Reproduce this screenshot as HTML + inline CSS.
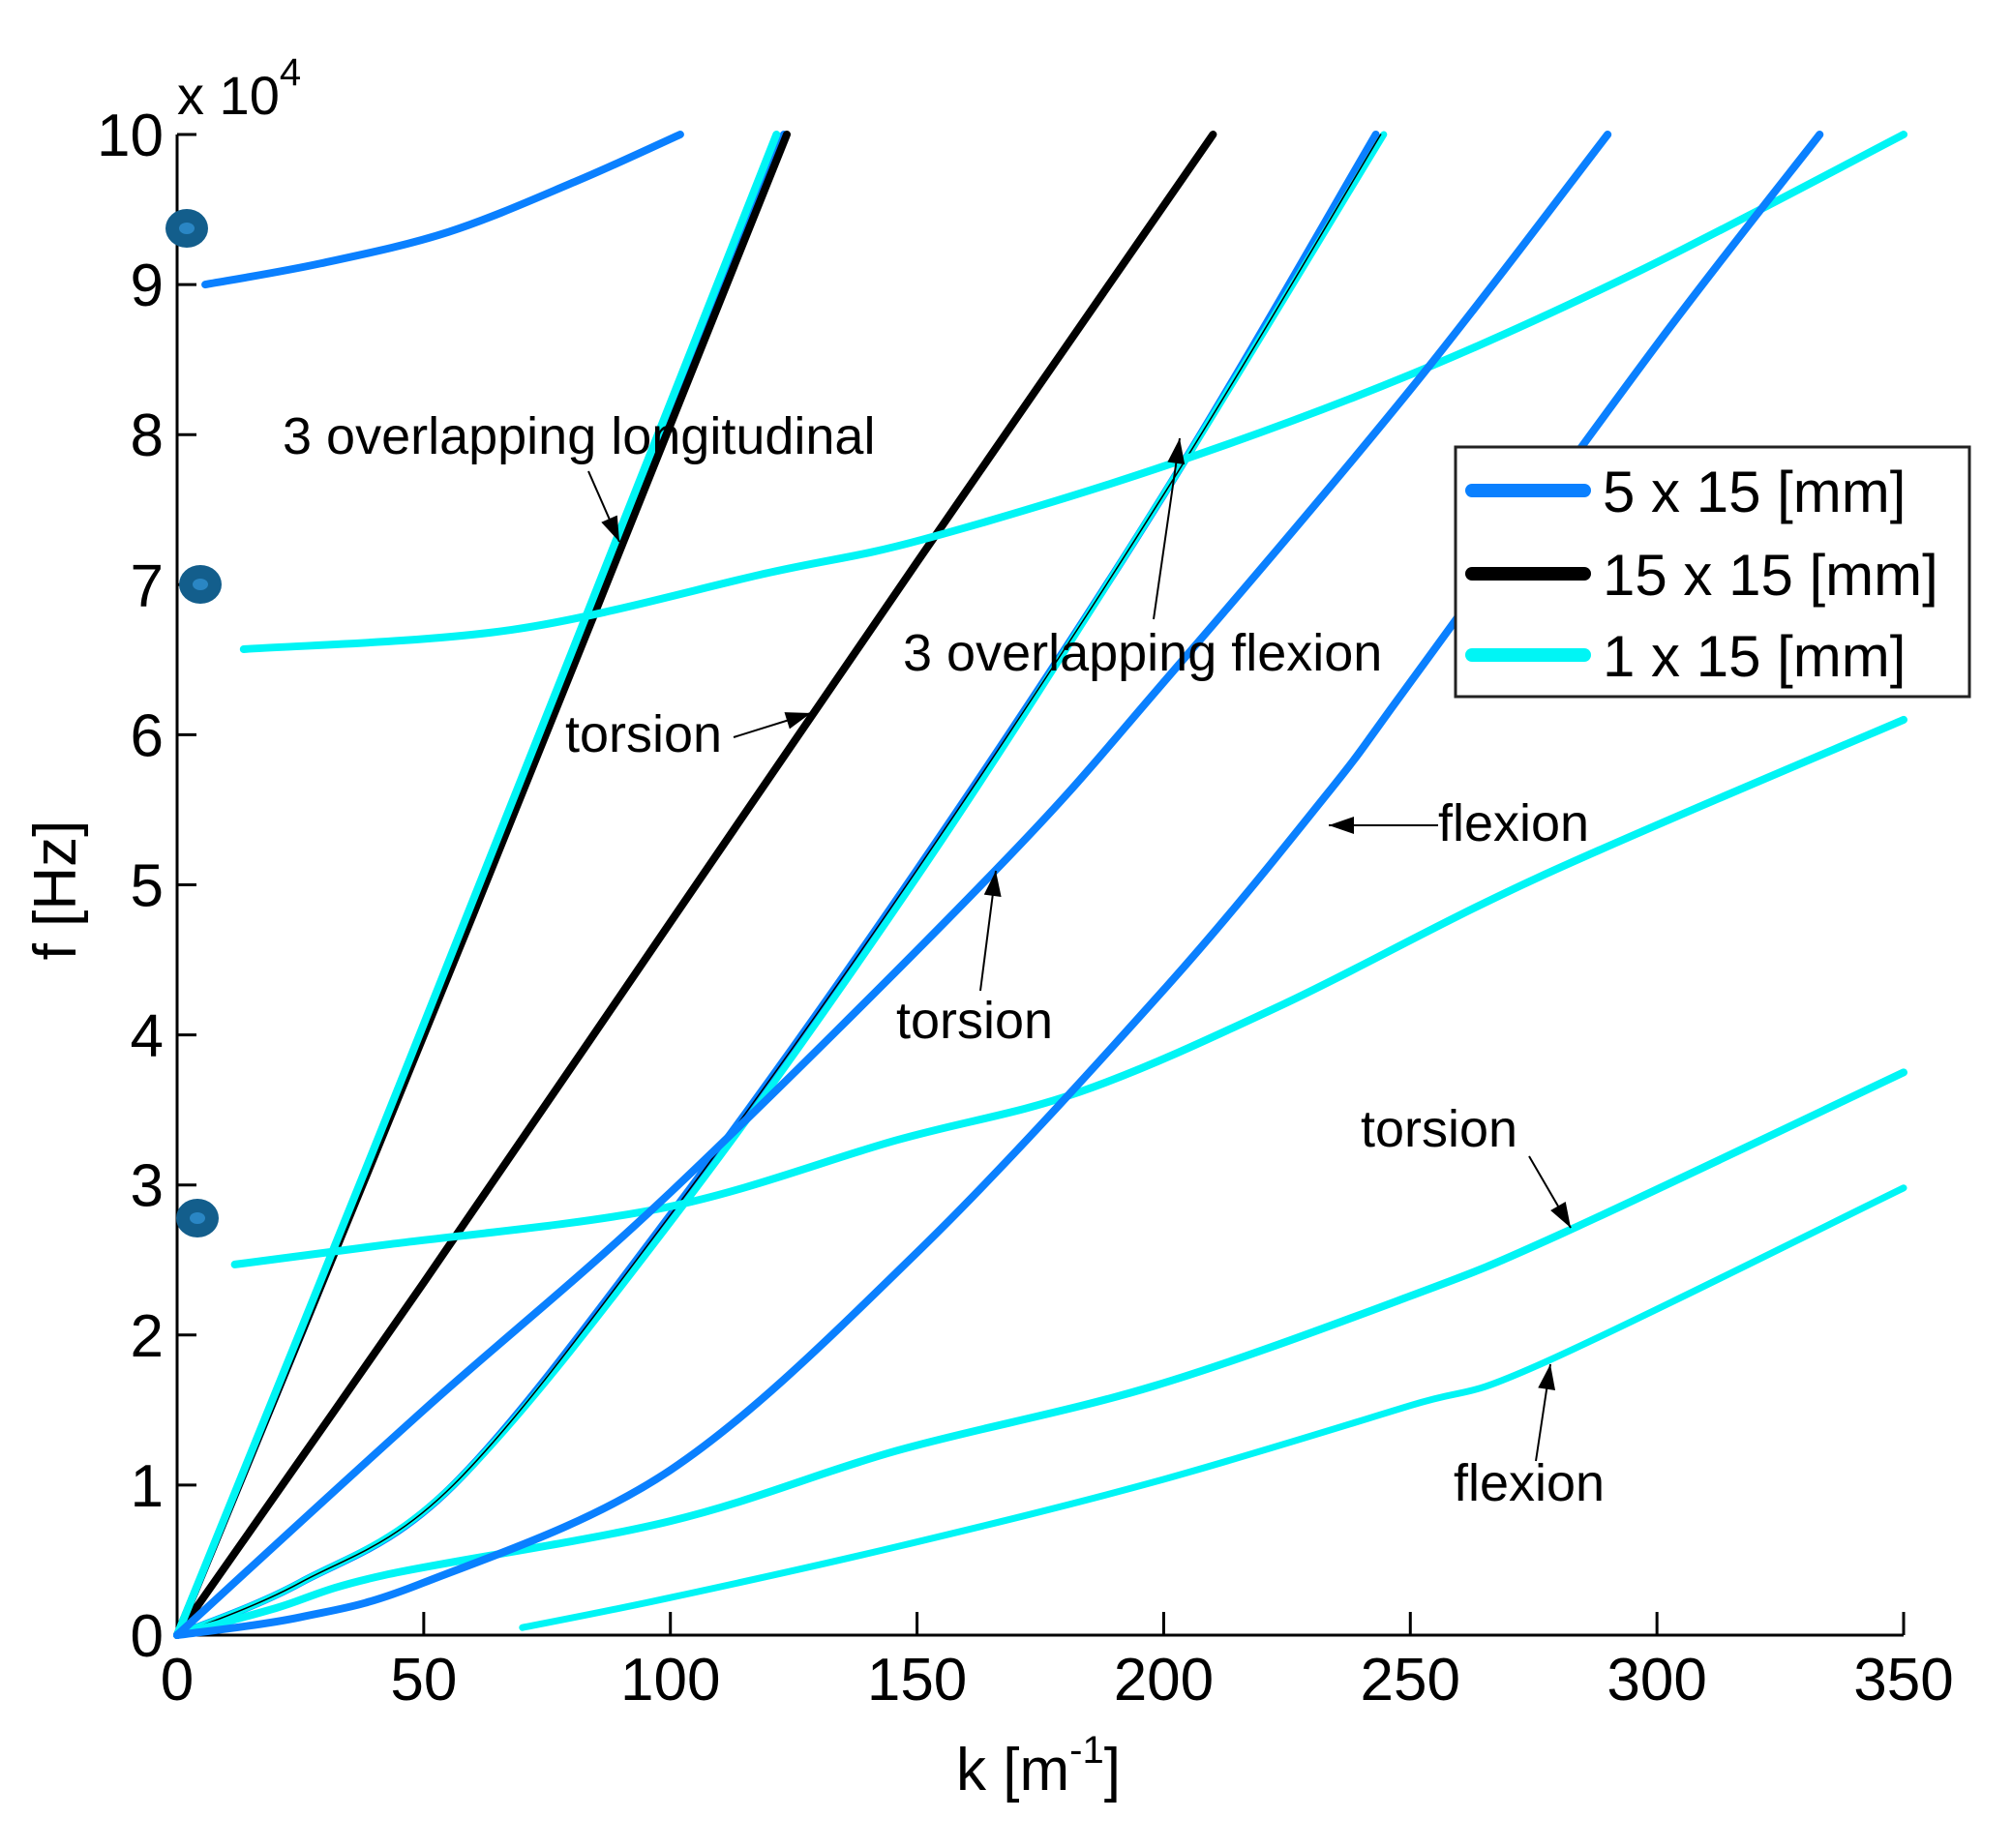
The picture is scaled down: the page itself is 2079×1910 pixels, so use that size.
<!DOCTYPE html>
<html><head><meta charset="utf-8"><style>
body{margin:0;background:#fff}
svg{display:block;font-family:"Liberation Sans",Arial,sans-serif}
</style></head><body>
<svg id="chart" width="2079" height="1910" viewBox="0 0 2079 1910" xmlns="http://www.w3.org/2000/svg">
<rect width="2079" height="1910" fill="#fff"/>
<g id="axes"></g>
<g id="marks"></g>
<g id="annot"></g>
</svg>
<script>
const xTicks=[0,50,100,150,200,250,300,350];
const yTicks=[0,1,2,3,4,5,6,7,8,9,10];
// 5 x 15 [mm] (blue)
const b1K=[5.7,29,55,81,102], b1F=[9.0,9.14,9.35,9.69,10];
const b2K=[0,40,80,123], b2F=[0,3.2,6.5,10];
const b3K=[0,25,56,100,150,200,243], b3F=[0,0.35,1.0,2.8,5.1,7.6,10];
const b4K=[0,50,100,166,200,250,290], b4F=[0,1.5,2.95,5.1,6.35,8.3,10];
const b5K=[0,25,50,100,150,200,233,250,300,333], b5F=[0,0.12,0.35,1.1,2.55,4.3,5.6,6.35,8.6,10];
// 15 x 15 [mm] (black)
const k1K=[0,60,123.6], k1F=[0,4.8,10];
const k2K=[0,50,100,150,210], k2F=[0,2.35,4.75,7.15,10];
const k3K=[0,25,56,100,150,200,244], k3F=[0,0.35,1.0,2.8,5.1,7.6,10];
// 1 x 15 [mm] (cyan)
const c1K=[0,40,80,121.5], c1F=[0,3.25,6.55,10];
const c2K=[13.5,68,120,151,201,250,297,350], c2F=[6.57,6.7,7.08,7.3,7.8,8.4,9.1,10];
const c3K=[11.7,42,99,146,183,224,276,350], c3F=[2.47,2.6,2.85,3.3,3.62,4.2,5.05,6.1];
const c4K=[0,25,56,100,150,200,244.6], c4F=[0,0.35,1.0,2.75,5.05,7.6,10];
const c5K=[0,20,42,100,146,198,250,281,350], c5F=[0,0.18,0.4,0.76,1.23,1.66,2.26,2.68,3.75];
const c6K=[70,100,146,198,250,276,350], c6F=[0.05,0.25,0.59,1.02,1.53,1.8,2.98];

const X0=183,X1=1967,Y0=1690,Y1=139;
const sx=k=>X0+(k-0)/(350-0)*(X1-X0);
const sy=f=>Y0-(f-0)/(10-0)*(Y0-Y1);
const NS="http://www.w3.org/2000/svg";
function mk(tag,attrs,parent){const e=document.createElementNS(NS,tag);for(const a in attrs)e.setAttribute(a,attrs[a]);parent.appendChild(e);return e;}
const axes=document.getElementById('axes'),marks=document.getElementById('marks'),annot=document.getElementById('annot');

let e=mk('line',{x1:X0,y1:Y1,x2:X0,y2:Y0,stroke:'#000','stroke-width':3},axes);


e=mk('line',{x1:X0,y1:Y0,x2:X1,y2:Y0,stroke:'#000','stroke-width':3},axes);


xTicks.forEach(t=>{
  const l=mk('line',{x1:sx(t),y1:Y0,x2:sx(t),y2:Y0-24,stroke:'#000','stroke-width':3},axes);
  
  
  const tx=mk('text',{x:sx(t),y:Y0+67,'font-size':62,'text-anchor':'middle'},axes);tx.textContent=t;
  
  
});
yTicks.forEach(t=>{
  const l=mk('line',{x1:X0,y1:sy(t),x2:X0+20,y2:sy(t),stroke:'#000','stroke-width':3},axes);
  
  
  const tx=mk('text',{x:X0-14,y:sy(t)+22,'font-size':62,'text-anchor':'end'},axes);tx.textContent=t;
  
  
});
let t=mk('text',{x:183,y:118,'font-size':56},axes);t.innerHTML='x 10<tspan dy="-30" font-size="40">4</tspan>';


t=mk('text',{x:0,y:0,'font-size':62,'text-anchor':'middle',transform:'translate(78,920) rotate(-90)'},axes);t.textContent='f [Hz]';


t=mk('text',{x:1073,y:1850,'font-size':62,'text-anchor':'middle'},axes);t.innerHTML='k [m<tspan dy="-28" font-size="40">-1</tspan><tspan dy="28">]</tspan>';



function curve(K,F,color,w,name){
  const P=K.map((k,i)=>[sx(k),sy(F[i])]);
  let d='M'+P[0][0].toFixed(1)+','+P[0][1].toFixed(1);
  for(let i=0;i<P.length-1;i++){
    const p0=P[Math.max(i-1,0)],p1=P[i],p2=P[i+1],p3=P[Math.min(i+2,P.length-1)];
    const c1x=p1[0]+(p2[0]-p0[0])/6,c1y=p1[1]+(p2[1]-p0[1])/6;
    const c2x=p2[0]-(p3[0]-p1[0])/6,c2y=p2[1]-(p3[1]-p1[1])/6;
    d+=`C${c1x.toFixed(1)},${c1y.toFixed(1)} ${c2x.toFixed(1)},${c2y.toFixed(1)} ${p2[0].toFixed(1)},${p2[1].toFixed(1)}`;
  }
  const p=mk('path',{d:d,fill:'none',stroke:color,'stroke-width':w,'stroke-linecap':'round','stroke-linejoin':'round'},marks);
  
  
}
const BL='#0a80ff',BK='#000',CY='#00f5f5';
curve(b2K,b2F,BL,8,'blue-longitudinal');
curve(k2K,k2F,BK,8,'black-torsion');
curve(k1K,k1F,BK,8,'black-longitudinal');
curve(c1K,c1F,CY,8,'cyan-longitudinal');
curve(b3K,b3F,BL,8,'blue-flexion-steep');
curve(c4K,c4F,CY,7,'cyan-flexion-steep');
curve(k3K,k3F,BK,1.5,'black-flexion');
curve(c2K,c2F,CY,8,'cyan-upper');
curve(c3K,c3F,CY,8,'cyan-middle');
curve(c5K,c5F,CY,8,'cyan-torsion');
curve(c6K,c6F,CY,7,'cyan-flexion');
curve(b1K,b1F,BL,8,'blue-top');
curve(b4K,b4F,BL,8,'blue-torsion');
curve(b5K,b5F,BL,8,'blue-flexion');

[[193,236],[207,604],[204,1259]].forEach(p=>{
  const c=mk('ellipse',{cx:p[0],cy:p[1],rx:22,ry:20,fill:'#135e8c'},marks);
  
  
  mk('ellipse',{cx:p[0],cy:p[1],rx:8,ry:6,fill:'#2a86c4'},marks);
});

// legend
const lg=mk('g',{},annot);


mk('rect',{x:1504,y:462,width:531,height:258,fill:'#fff',stroke:'#222','stroke-width':3},lg);
[['5 x 15 [mm]',BL,507],['15 x 15 [mm]',BK,593],['1 x 15 [mm]',CY,677]].forEach(r=>{
  mk('line',{x1:1521,y1:r[2],x2:1637,y2:r[2],stroke:r[1],'stroke-width':14,'stroke-linecap':'round'},lg);
  const tx=mk('text',{x:1656,y:r[2]+22,'font-size':60},lg);tx.textContent=r[0];
  
  
});

function label(txt,x,y,name){const tx=mk('text',{x:x,y:y,'font-size':54},annot);tx.textContent=txt;
  
  }
function arrow(x1,y1,x2,y2){
  mk('line',{x1:x1,y1:y1,x2:x2,y2:y2,stroke:'#000','stroke-width':2},annot);
  const a=Math.atan2(y2-y1,x2-x1),L=26,W=9;
  const bx=x2-L*Math.cos(a),by=y2-L*Math.sin(a);
  mk('polygon',{points:`${x2},${y2} ${bx+W*Math.sin(a)},${by-W*Math.cos(a)} ${bx-W*Math.sin(a)},${by+W*Math.cos(a)}`,fill:'#000'},annot);
}
label('3 overlapping longitudinal',292,469,'label-longitudinal');arrow(608,487,640,560);
label('torsion',584,777,'label-torsion-black');arrow(758,762,838,737);
label('3 overlapping flexion',933,693,'label-flexion-overlap');arrow(1192,640,1219,453);
label('flexion',1486,869,'label-flexion-blue');arrow(1486,853,1373,853);
label('torsion',926,1073,'label-torsion-blue');arrow(1013,1024,1029,900);
label('torsion',1406,1185,'label-torsion-cyan');arrow(1580,1195,1623,1269);
label('flexion',1502,1551,'label-flexion-cyan');arrow(1587,1510,1602,1410);
</script>
</body></html>
